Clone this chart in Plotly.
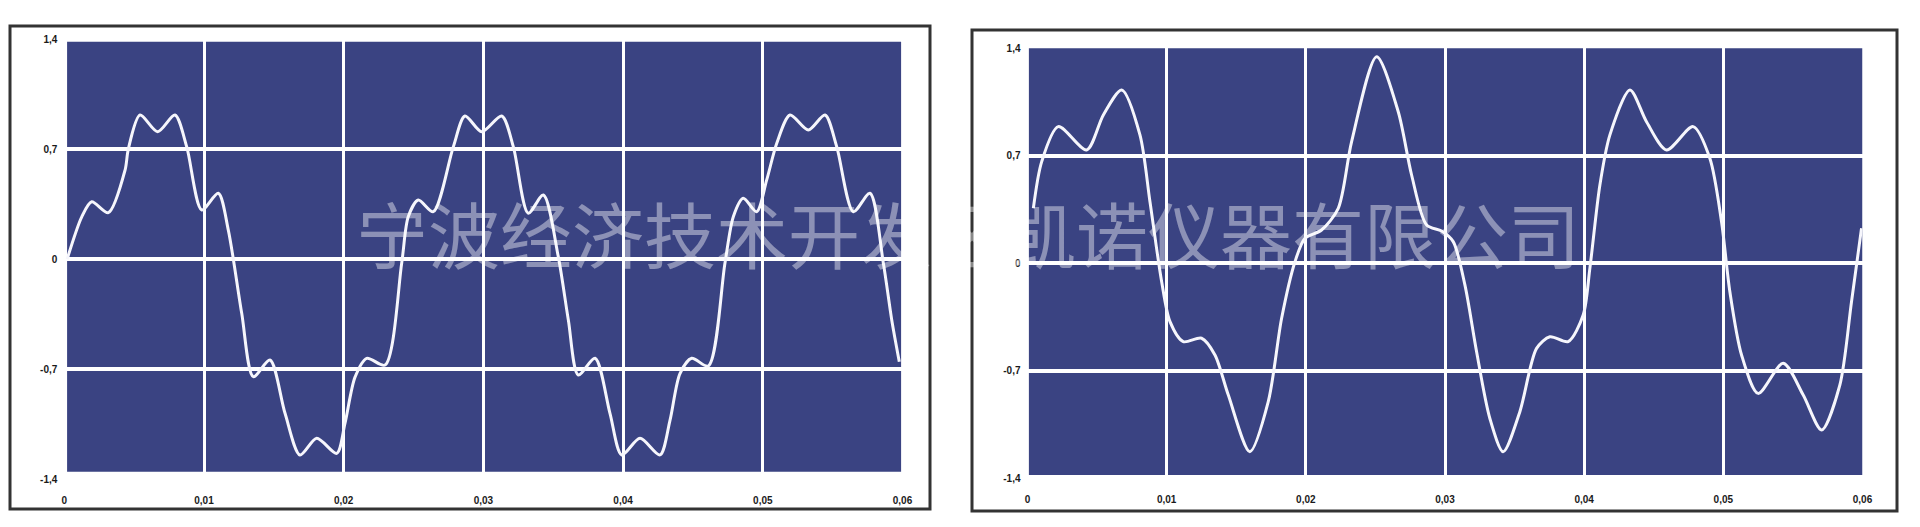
import plotly.graph_objects as go

# ---- data ----
left_t = [0.0002, 0.00125, 0.00196, 0.00315, 0.00435, 0.00458, 0.00542, 0.00668, 0.00792, 0.00876,
          0.00984, 0.01102, 0.01174, 0.0127, 0.01353, 0.01472, 0.0158, 0.01687, 0.01807, 0.0195,
          0.02009, 0.02081, 0.02165, 0.02296, 0.02415, 0.02462, 0.02534, 0.02641, 0.02785, 0.02868,
          0.02988, 0.03131, 0.03214, 0.03321, 0.03429, 0.03536, 0.03608, 0.03679, 0.03799, 0.03906,
          0.0399, 0.04121, 0.04264, 0.04336, 0.04407, 0.04491, 0.0461, 0.04729, 0.04789, 0.0486,
          0.04956, 0.05028, 0.051, 0.05195, 0.05326, 0.05445, 0.05529, 0.05648, 0.05767, 0.05863,
          0.05923, 0.05977]
left_v = [0.0, 0.27, 0.366, 0.297, 0.568, 0.70, 0.918, 0.812, 0.918, 0.717,
          0.314, 0.42, 0.186, -0.344, -0.747, -0.641, -0.98, -1.245, -1.139, -1.235,
          -1.044, -0.75, -0.63, -0.673, -0.025, 0.271, 0.377, 0.303, 0.717, 0.912,
          0.812, 0.912, 0.717, 0.293, 0.409, 0.017, -0.386, -0.736, -0.63, -0.98,
          -1.245, -1.139, -1.245, -1.023, -0.727, -0.63, -0.679, -0.025, 0.271, 0.388,
          0.303, 0.505, 0.738, 0.918, 0.823, 0.918, 0.717, 0.303, 0.42, -0.025,
          -0.386, -0.652]

right_t = [0.00042, 0.00102, 0.00221, 0.00425, 0.00545, 0.00677, 0.00808, 0.0088, 0.00964, 0.01024,
           0.01119, 0.01251, 0.01347, 0.01443, 0.01598, 0.0173, 0.01826, 0.01922, 0.01994, 0.02113,
           0.02233, 0.02329, 0.02509, 0.02664, 0.0276, 0.02868, 0.02976, 0.03059, 0.03143, 0.03227,
           0.03322, 0.03418, 0.03538, 0.03658, 0.03754, 0.03885, 0.03993, 0.04041, 0.04113, 0.04185,
           0.04329, 0.04448, 0.04592, 0.04783, 0.04903, 0.04987, 0.05047, 0.05131, 0.0525, 0.0543,
           0.05574, 0.05706, 0.05837, 0.05921, 0.05993]
right_v = [0.358, 0.662, 0.89, 0.738, 0.966, 1.129, 0.836, 0.401, -0.12, -0.38,
           -0.51, -0.488, -0.597, -0.858, -1.227, -0.901, -0.358, 0.01, 0.163, 0.217,
           0.358, 0.792, 1.345, 0.987, 0.575, 0.249, 0.21, 0.141, -0.141, -0.576,
           -1.009, -1.227, -0.966, -0.554, -0.478, -0.51, -0.337, -0.033, 0.51, 0.836,
           1.129, 0.922, 0.738, 0.89, 0.684, 0.271, -0.185, -0.597, -0.847, -0.651,
           -0.858, -1.085, -0.793, -0.25, 0.228]

y_tickvals = [-1.4, -0.7, 0, 0.7, 1.4]
y_ticktext = ["-1,4", "-0,7", "0", "0,7", "1,4"]
x_tickvals = [0, 0.01, 0.02, 0.03, 0.04, 0.05, 0.06]
x_ticktext = ["0", "0,01", "0,02", "0,03", "0,04", "0,05", "0,06"]
watermark = "宁波经济技术开发区凯诺仪器有限公司"

# The page body keeps an 8px margin, so the figure is drawn from (8, 8) of the window.
WIN_W, WIN_H, OFF = 1920, 527, 8
W, H = WIN_W - OFF, WIN_H - OFF


def px_x(p):  # window pixel -> paper x
    return (p - OFF) / W


def px_y(p):  # window pixel (from top) -> paper y
    return (WIN_H - p) / H


PANEL = "#3a4382"
tickfont = dict(family="Liberation Sans, Arial", size=10, color="#1a1a1a", weight="bold")

fig = go.Figure()
fig.add_trace(go.Scatter(x=left_t, y=left_v, mode="lines", xaxis="x", yaxis="y",
                         line=dict(color="#f6f6fc", width=3, shape="spline", smoothing=0.8),
                         showlegend=False, hoverinfo="skip"))
fig.add_trace(go.Scatter(x=right_t, y=right_v, mode="lines", xaxis="x2", yaxis="y2",
                         line=dict(color="#f6f6fc", width=3, shape="spline", smoothing=0.8),
                         showlegend=False, hoverinfo="skip"))


def xax(domain, anchor):
    return dict(domain=domain, anchor=anchor, range=[0, 0.06], tickvals=x_tickvals,
                ticktext=x_ticktext, showgrid=True, gridcolor="white", gridwidth=3,
                zeroline=False, showline=False, ticks="", tickfont=tickfont,
                ticklabelstandoff=14, fixedrange=True, automargin=False)


def yax(domain, anchor):
    return dict(domain=domain, anchor=anchor, range=[-1.4, 1.4], tickvals=y_tickvals,
                ticktext=y_ticktext, showgrid=True, gridcolor="white", gridwidth=4,
                zeroline=False, showline=False, ticks="", tickfont=tickfont,
                ticklabelstandoff=6, fixedrange=True, automargin=False)


fig.update_layout(
    width=W, height=H, autosize=False,
    margin=dict(l=0, r=0, t=0, b=0, pad=0),
    paper_bgcolor="white", plot_bgcolor="white",
    xaxis=xax([px_x(64.3), px_x(902.5)], "y"),
    yaxis=yax([px_y(479.3), px_y(39.3)], "x"),
    xaxis2=xax([px_x(1027.5), px_x(1862.5)], "y2"),
    yaxis2=yax([px_y(478.3), px_y(48.3)], "x2"),
    shapes=[
        # blue panels (below grid)
        dict(type="rect", xref="x", yref="y", x0=0.0002, x1=0.0599, y0=-1.352, y1=1.385,
             fillcolor=PANEL, line=dict(width=0), layer="below"),
        dict(type="rect", xref="x2", yref="y2", x0=0.0001, x1=0.06, y0=-1.378, y1=1.41,
             fillcolor=PANEL, line=dict(width=0), layer="below"),
        # outer frames
        dict(type="rect", xref="paper", yref="paper", x0=px_x(10), x1=px_x(930),
             y0=px_y(509), y1=px_y(26), line=dict(color="#333333", width=3)),
        dict(type="rect", xref="paper", yref="paper", x0=px_x(972), x1=px_x(1897),
             y0=px_y(511), y1=px_y(30), line=dict(color="#333333", width=3)),
    ],
    annotations=[
        dict(text=watermark, xref="paper", yref="paper", x=px_x(968), y=px_y(231),
             xanchor="center", yanchor="middle", showarrow=False,
             font=dict(family="Noto Sans CJK SC", size=72, color="rgba(255,255,255,0.42)"))
    ],
)

fig.write_html("out.html")
